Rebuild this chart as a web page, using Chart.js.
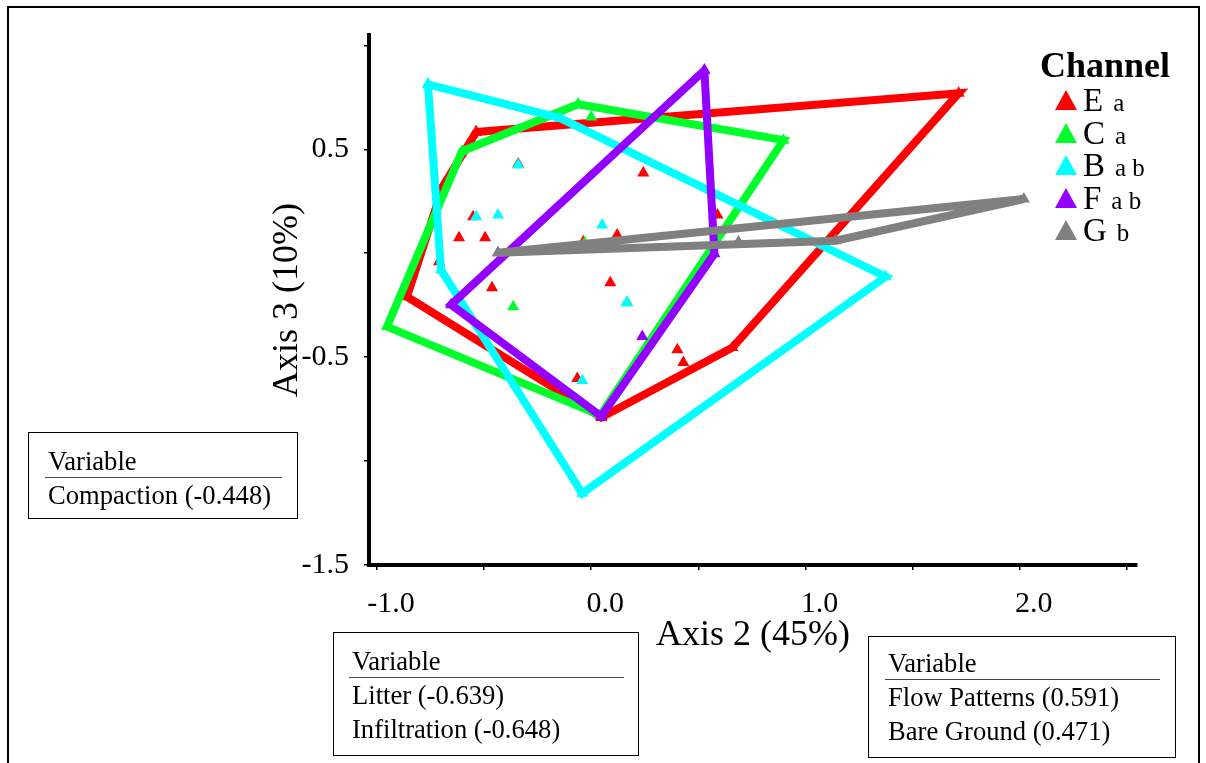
<!DOCTYPE html>
<html>
<head>
<meta charset="utf-8">
<script src="https://cdn.jsdelivr.net/npm/chart.js@4.4.1/dist/chart.umd.min.js"></script>
<style>
  html, body { margin: 0; padding: 0; background: #fff; }
  body { width: 1206px; height: 763px; position: relative; overflow: hidden;
         font-family: "Liberation Serif", "Times New Roman", serif; color: #000; }
  #chart { position: absolute; left: 0; top: 0; }
  #frame { position: absolute; left: 7px; top: 6px; width: 1193px; height: 800px;
           border: 2px solid #000; box-sizing: border-box; pointer-events: none; }
  #legend-title { position: absolute; left: 1040px; top: 44px; font-size: 36px; line-height: 42px; font-weight: bold; }
  .legend-row { position: absolute; left: 1055px; height: 32px; line-height: 32px; white-space: nowrap; }
  .legend-row .tri { position: absolute; left: 0; top: 6px; width: 0; height: 0;
                     border-left: 11px solid transparent; border-right: 11px solid transparent; border-bottom: 20px solid; }
  .legend-row .big { position: absolute; left: 28px; top: 0; font-size: 33px; }
  .legend-row .sub { font-size: 25px; margin-left: 10px; }
  .varbox { position: absolute; border: 1px solid #000; background: #fff; font-size: 26.6px; box-sizing: border-box; }
  .varbox .row { position: absolute; line-height: 30px; white-space: nowrap; }
  .varbox .rule { position: absolute; height: 0; border-top: 1px solid #444; }
</style>
</head>
<body>
<canvas id="chart" width="1206" height="763"></canvas>
<div id="frame"></div>
<div id="legend-title">Channel</div>
<div id="legend"></div>
<div id="boxes"></div>
<script>
// ordination scores (Axis 2, Axis 3)
const seriesNames = ["E", "C", "B", "F", "G"]
const seriesGroups = ["a", "a", "a b", "a b", "b"]
const seriesColors = ["#ff0000", "#00ff2b", "#00ffff", "#9400ff", "#808080"]

// convex hull vertices, in drawing order
const eHull = [[-0.537, 0.583], [1.715, 0.770], [0.659, -0.454], [0.047, -0.790], [-0.860, -0.209], [-0.692, 0.323]]
const cHull = [[-0.061, 0.717], [0.897, 0.544], [0.042, -0.780], [-0.953, -0.353], [-0.603, 0.491]]
const bHull = [[-0.762, 0.813], [-0.145, 0.650], [1.374, -0.113], [-0.042, -1.155], [-0.701, -0.080]]
const fHull = [[0.528, 0.880], [0.575, -0.003], [0.047, -0.785], [-0.654, -0.248]]
const gHull = [[-0.435, 0.002], [2.019, 0.261], [1.140, 0.060]]

// sample units inside each hull
const ePoints = [[-0.341, 0.429], [0.243, 0.386], [-0.551, 0.175], [-0.617, 0.074], [-0.495, 0.074],
                 [-0.710, -0.041], [-0.463, -0.166], [0.089, -0.142], [0.121, 0.088], [-0.037, 0.055],
                 [0.589, 0.184], [0.402, -0.464], [0.430, -0.526], [-0.065, -0.603]]
const cPoints = [[0.000, 0.655], [-0.364, -0.257], [0.168, -0.238], [-0.030, 0.050]]
const bPoints = [[-0.341, 0.424], [-0.537, 0.175], [-0.435, 0.184], [0.051, 0.136], [0.164, -0.238], [-0.042, -0.612]]
const fPoints = [[0.238, -0.401]]
const gPoints = [[0.687, 0.055]]

const xTickValues = [-1.0, -0.5, 0.0, 0.5, 1.0, 1.5, 2.0, 2.5]
const xLabelValues = [-1.0, 0.0, 1.0, 2.0]
const yTickValues = [-1.5, -1.0, -0.5, 0.0, 0.5, 1.0]
const yLabelValues = [-1.5, -0.5, 0.5]

const variableBoxes = [
  { rows: ["Compaction (-0.448)"] },
  { rows: ["Litter (-0.639)", "Infiltration (-0.648)"] },
  { rows: ["Flow Patterns (0.591)", "Bare Ground (0.471)"] }
]

const hulls = [eHull, cHull, bHull, fHull, gHull]
const points = [ePoints, cPoints, bPoints, fPoints, gPoints]
const serif = "'Liberation Serif', 'Times New Roman', serif"
const toXY = ([x, y]) => ({ x, y })

const datasets = []
seriesNames.forEach((name, i) => {
  const color = seriesColors[i]
  const hull = hulls[i].map(toXY)
  datasets.push({
    label: name + " hull",
    data: [...hull, hull[0]],
    showLine: true,
    borderColor: color,
    borderWidth: 8,
    borderJoinStyle: "miter",
    pointStyle: "triangle",
    pointRadius: 7,
    pointBackgroundColor: color,
    pointBorderWidth: 0,
    order: 10 - 2 * i
  })
  datasets.push({
    label: name,
    data: points[i].map(toXY),
    showLine: false,
    pointStyle: "triangle",
    pointRadius: 7,
    pointBackgroundColor: color,
    pointBorderWidth: 0,
    order: 9 - 2 * i
  })
})

const tickGrid = { display: true, drawOnChartArea: false, drawTicks: true, tickLength: 5, color: "#000", lineWidth: 1.5 }

new Chart(document.getElementById("chart"), {
  type: "scatter",
  data: { datasets },
  options: {
    responsive: false,
    animation: false,
    events: [],
    layout: { padding: { left: 260, top: 35, right: 69, bottom: 106 } },
    plugins: { legend: { display: false }, tooltip: { enabled: false } },
    scales: {
      x: {
        min: -1.037, max: 2.547,
        afterBuildTicks: (scale) => { scale.ticks = xTickValues.map((value) => ({ value })) },
        afterFit: (scale) => { scale.height = 92 },
        border: { display: true, color: "#000", width: 4 },
        grid: tickGrid,
        ticks: {
          autoSkip: false, maxRotation: 0, padding: 16, labelOffset: 14, color: "#000",
          font: { family: serif, size: 30 },
          callback: (v) => xLabelValues.includes(v) ? v.toFixed(1) : ""
        },
        title: { display: true, text: "Axis 2 (45%)", color: "#000", font: { family: serif, size: 36 }, padding: 0 }
      },
      y: {
        min: -1.5, max: 1.05,
        afterBuildTicks: (scale) => { scale.ticks = yTickValues.map((value) => ({ value })) },
        afterFit: (scale) => { scale.width = 109 },
        border: { display: true, color: "#000", width: 4 },
        grid: tickGrid,
        ticks: {
          autoSkip: false, padding: 15, color: "#000",
          font: { family: serif, size: 30 },
          callback: (v) => yLabelValues.includes(v) ? v.toFixed(1) : ""
        },
        title: { display: true, text: "Axis 3 (10%)", color: "#000", font: { family: serif, size: 36 }, padding: { top: 6, bottom: 0 } }
      }
    }
  }
})

// legend: channel letter with its significance group
const legend = document.getElementById("legend")
seriesNames.forEach((name, i) => {
  const row = document.createElement("div")
  row.className = "legend-row"
  row.style.top = (84 + i * 32.5) + "px"
  row.innerHTML = `<span class="tri" style="border-bottom-color:${seriesColors[i]}"></span>` +
    `<span class="big">${name}<span class="sub">${seriesGroups[i]}</span></span>`
  legend.appendChild(row)
})

// correlated-variable boxes
const boxFrames = [
  { left: 28, top: 432, width: 270, height: 87, pad: 20, rule: 17, first: 445 },
  { left: 333, top: 632, width: 306, height: 124, pad: 19, rule: 16, first: 645 },
  { left: 868, top: 636, width: 308, height: 122, pad: 20, rule: 17, first: 647 }
]
const boxes = document.getElementById("boxes")
variableBoxes.forEach(({ rows }, i) => {
  const f = boxFrames[i]
  const box = document.createElement("div")
  box.className = "varbox"
  Object.assign(box.style, { left: f.left + "px", top: f.top + "px", width: f.width + "px", height: f.height + "px" })
  let html = `<div class="row" style="left:${f.pad - 1}px;top:${f.first - f.top}px">Variable</div>`
  html += `<div class="rule" style="left:${f.rule - 1}px;right:${f.rule - 2}px;top:${f.first - f.top + 31}px"></div>`
  rows.forEach((text, r) => {
    html += `<div class="row" style="left:${f.pad - 1}px;top:${f.first - f.top + 34 + r * 34}px">${text}</div>`
  })
  box.innerHTML = html
  boxes.appendChild(box)
})
</script>
</body>
</html>
